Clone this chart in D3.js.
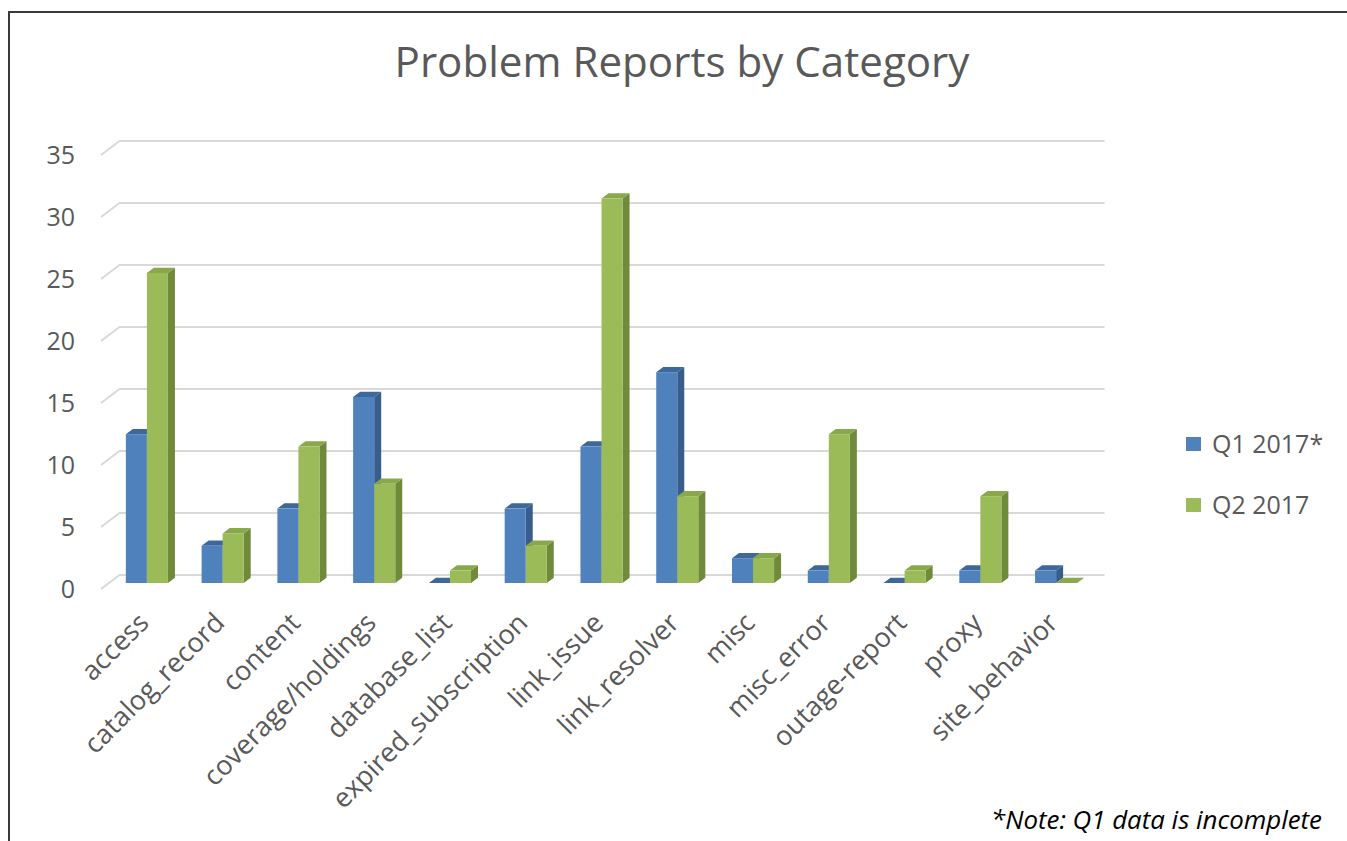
<!DOCTYPE html>
<html>
<head>
<meta charset="utf-8">
<script src="https://cdn.jsdelivr.net/npm/d3@7"></script>
<style>
  html, body { margin: 0; padding: 0; background: #fff; }
  svg { display: block; }
</style>
</head>
<body>
<svg id="chart" width="1347" height="841"></svg>
<script>
// ---- data ----
const categories = ["access", "catalog_record", "content", "coverage/holdings", "database_list",
  "expired_subscription", "link_issue", "link_resolver", "misc", "misc_error",
  "outage-report", "proxy", "site_behavior"];
const seriesNames = ["Q1 2017*", "Q2 2017"];
const q1Values = [12, 3, 6, 15, 0, 6, 11, 17, 2, 1, 0, 1, 1];
const q2Values = [25, 4, 11, 8, 1, 3, 31, 7, 2, 12, 1, 7, 0];
const yTicks = [0, 5, 10, 15, 20, 25, 30, 35];
const titleText = "Problem Reports by Category";
const noteText = "*Note: Q1 data is incomplete";

// ---- styles ----
const colors = [
  { front: "#4F81BD", top: "#3E6899", side: "#385D8A" },
  { front: "#9BBB59", top: "#89A84C", side: "#6E8A3A" }
];
const textColor = "#595959";
const font = "'Open Sans', 'Noto Sans', sans-serif";

const svg = d3.select("#chart");

// border
svg.append("path").attr("d", "M9,841 L9,12 L1347,12")
  .attr("fill", "none").attr("stroke", "#3a3a3a").attr("stroke-width", 2);

// geometry (front floor plane)
const frontLeft = 101, frontRight = 1086;
const wallDx = 18.5, wallDy = -14;      // front floor -> back wall
const barDx = 8, barDy = -6;             // front floor -> bar front plane
const depthDx = 7, depthDy = -5.3;       // bar depth
const floorY = 589;                      // front floor y for value 0

const y = d3.scaleLinear().domain([0, 35]).range([floorY, floorY - 35 * 12.4]);
const x = d3.scaleBand().domain(categories).range([frontLeft, frontRight]).paddingInner(0).paddingOuter(0);
const xs = d3.scaleBand().domain(seriesNames).range([0, x.bandwidth()]).paddingInner(0).paddingOuter(0.8);

// gridlines (side wall diagonal + back wall)
const grid = svg.append("g");
yTicks.forEach(t => {
  const yf = y(t);
  grid.append("path")
    .attr("d", `M${frontLeft},${yf} L${frontLeft + wallDx},${yf + wallDy} L${frontRight + wallDx},${yf + wallDy}`)
    .attr("fill", "none").attr("stroke", "#D9D9D9").attr("stroke-width", 2);
});

// y tick labels
svg.append("g").selectAll("text").data(yTicks).join("text")
  .attr("x", 75).attr("y", d => y(d)).attr("dy", "0.35em")
  .attr("text-anchor", "end").attr("font-family", font).attr("font-size", 25)
  .attr("fill", textColor).text(d => d);

// bars
const series = [q1Values, q2Values];
const bars = svg.append("g");
categories.forEach((cat, i) => {
  series.forEach((vals, s) => {
    const v = vals[i];
    const x0 = x(cat) + xs(seriesNames[s]) + barDx;
    const x1 = x0 + xs.bandwidth();
    const yb = y(0) + barDy;
    const yt = y(v) + barDy;
    const c = colors[s];
    bars.append("path")
      .attr("d", `M${x1},${yb} L${x1 + depthDx},${yb + depthDy} L${x1 + depthDx},${yt + depthDy} L${x1},${yt} Z`)
      .attr("fill", c.side);
    bars.append("path")
      .attr("d", `M${x0},${yt} L${x0 + depthDx},${yt + depthDy} L${x1 + depthDx},${yt + depthDy} L${x1},${yt} Z`)
      .attr("fill", c.top);
    if (v > 0) {
      bars.append("rect").attr("x", x0).attr("y", yt).attr("width", x1 - x0).attr("height", yb - yt)
        .attr("fill", c.front);
    }
  });
});

// category labels
svg.append("g").selectAll("text").data(categories).join("text")
  .attr("transform", d => `translate(${x(d) + x.bandwidth() / 2 + barDx - 4},617) rotate(-45)`)
  .attr("text-anchor", "end").attr("dominant-baseline", "central")
  .attr("font-family", font).attr("font-size", 27).attr("fill", textColor)
  .text(d => d);

function fitWidth(sel, target) {
  const w = sel.node().getComputedTextLength();
  const fs = parseFloat(sel.attr("font-size"));
  sel.attr("font-size", fs * target / w);
}

// title
const title = svg.append("text").attr("x", 682).attr("y", 62).attr("dy", "0.35em")
  .attr("text-anchor", "middle").attr("font-family", font).attr("font-size", 36)
  .attr("fill", textColor).text(titleText);
fitWidth(title, 575);

// legend
const legend = svg.append("g");
const legendY = [444, 505];
seriesNames.forEach((name, s) => {
  legend.append("rect").attr("x", 1186).attr("y", legendY[s] - 7).attr("width", 15).attr("height", 14)
    .attr("fill", colors[s].front);
  legend.append("text").attr("x", 1212).attr("y", legendY[s]).attr("dy", "0.35em")
    .attr("font-family", font).attr("font-size", 25).attr("fill", textColor).text(name);
});

// note
const note = svg.append("text").attr("x", 1322).attr("y", 820).attr("dy", "0.35em")
  .attr("text-anchor", "end").attr("font-family", font).attr("font-style", "italic")
  .attr("font-size", 22).attr("fill", "#000").text(noteText);
fitWidth(note, 331);
</script>
</body>
</html>
